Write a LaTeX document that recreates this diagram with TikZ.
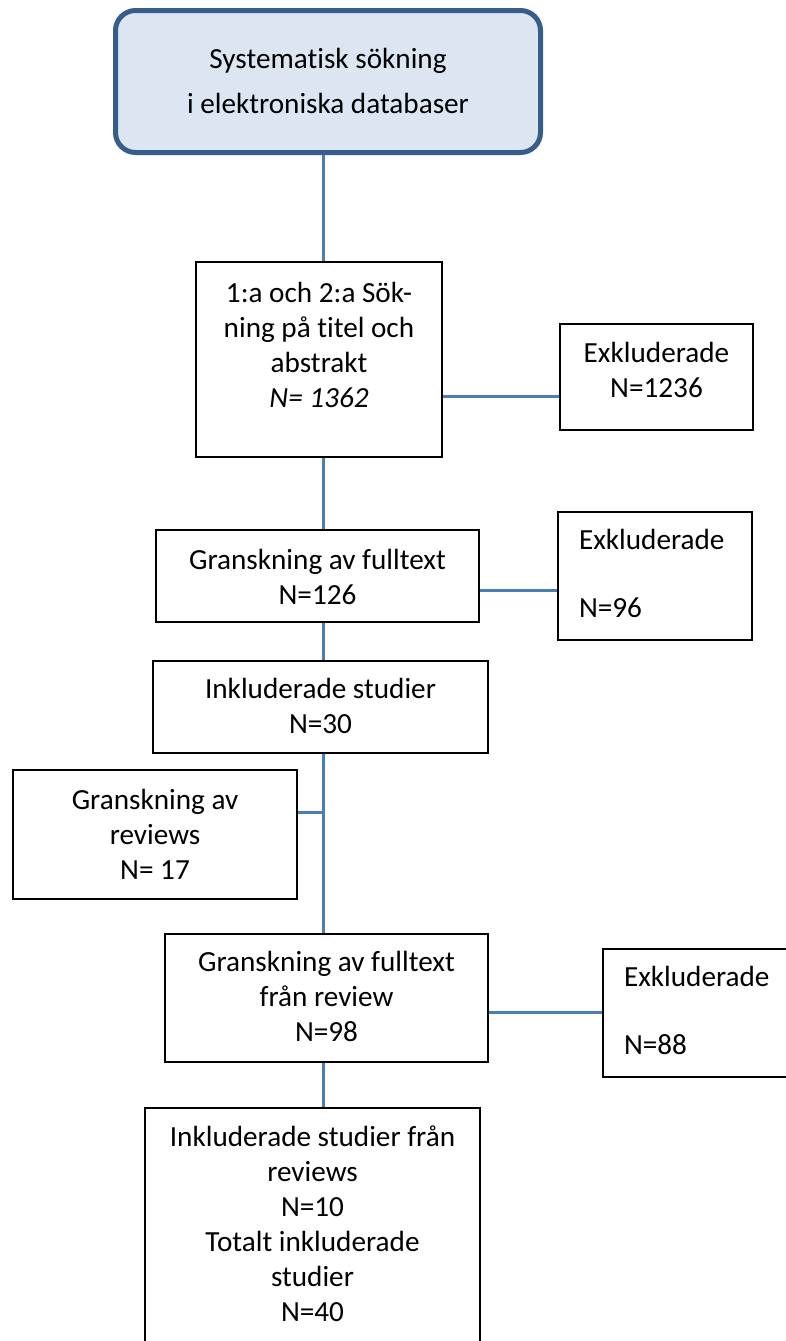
\documentclass[tikz,border=0pt]{standalone}
\usepackage{fontspec}
\setmainfont[Ligatures=NoCommon]{Carlito}
\definecolor{linkblue}{HTML}{4A7EBB}
\definecolor{startline}{HTML}{385D8A}
\definecolor{startfill}{HTML}{DCE6F2}
\newcommand{\padtop}[1]{\rule{0pt}{#1pt}}
\newcommand{\padbot}[1]{\rule[-#1pt]{0pt}{0pt}}

\begin{document}
\begin{tikzpicture}[x=1pt, y=-1pt,
  box/.style={draw, line width=2pt, anchor=north west, inner xsep=0pt, inner ysep=0pt,
    align=center, font=\fontsize{29.2}{35}\selectfont},
  exbox/.style={box, inner xsep=21pt, text width=152pt, align=left},
  startbox/.style={box, draw=startline, fill=startfill, line width=5pt, rounded corners=20pt,
    font=\fontsize{29.2}{45}\selectfont},
  link/.style={draw=linkblue, line width=3pt}
]
\useasboundingbox (0,0) rectangle (785,1341);

\node[startbox, minimum width=425pt] (search) at (113,8)
  {\padtop{57.5}Systematisk sökning\\ i elektroniska databaser\padbot{39.5}};
\node[box, minimum width=246pt] (screen) at (195,261)
  {\padtop{40.5}1:a och 2:a Sök-\\ ning på titel och\\ abstrakt\\ \textit{N= 1362}\padbot{49.5}};
\node[box, minimum width=193pt] (excl1) at (559,323)
  {\padtop{38.5}Exkluderade\\ N=1236\padbot{32.5}};
\node[box, minimum width=323pt] (fulltext) at (155,529)
  {\padtop{39.5}Granskning av fulltext\\ N=126\padbot{17.5}};
\node[exbox] (excl2) at (557,511)
  {\padtop{37.5}Exkluderade\\[33pt] N=96\padbot{22.5}};
\node[box, minimum width=335pt] (incl) at (152,660)
  {\padtop{37.5}Inkluderade studier\\ N=30\padbot{19.5}};
\node[box, minimum width=284pt] (reviews) at (12,769)
  {\padtop{39.5}Granskning av\\ reviews\\ N= 17\padbot{19.5}};
\node[box, minimum width=323pt] (fullrev) at (164,933)
  {\padtop{37.5}Granskning av fulltext\\ från review\\ N=98\padbot{20.5}};
\node[exbox] (excl3) at (602,948)
  {\padtop{37.5}Exkluderade\\[33pt] N=88\padbot{22.5}};
\node[box, minimum width=335pt] (final) at (144,1107)
  {\padtop{38.5}Inkluderade studier från\\ reviews\\ N=10\\ Totalt inkluderade\\ studier\\ N=40\padbot{30}};

\coordinate (trunk) at (323.5,0);
\coordinate (j1) at (500,396.5);
\coordinate (j2) at (500,590);
\coordinate (j3) at (300,812);
\coordinate (j4) at (540,1012);

\draw[link] (search.south -| trunk) -- (screen.north -| trunk);
\draw[link] (screen.south -| trunk) -- (fulltext.north -| trunk);
\draw[link] (fulltext.south -| trunk) -- (incl.north -| trunk);
\draw[link] (incl.south -| trunk) -- (fullrev.north -| trunk);
\draw[link] (fullrev.south -| trunk) -- (final.north -| trunk);
\draw[link] (screen.east |- j1) -- (excl1.west |- j1);
\draw[link] (fulltext.east |- j2) -- (excl2.west |- j2);
\draw[link] (reviews.east |- j3) -- (trunk |- j3);
\draw[link] (fullrev.east |- j4) -- (excl3.west |- j4);
\end{tikzpicture}
\end{document}
